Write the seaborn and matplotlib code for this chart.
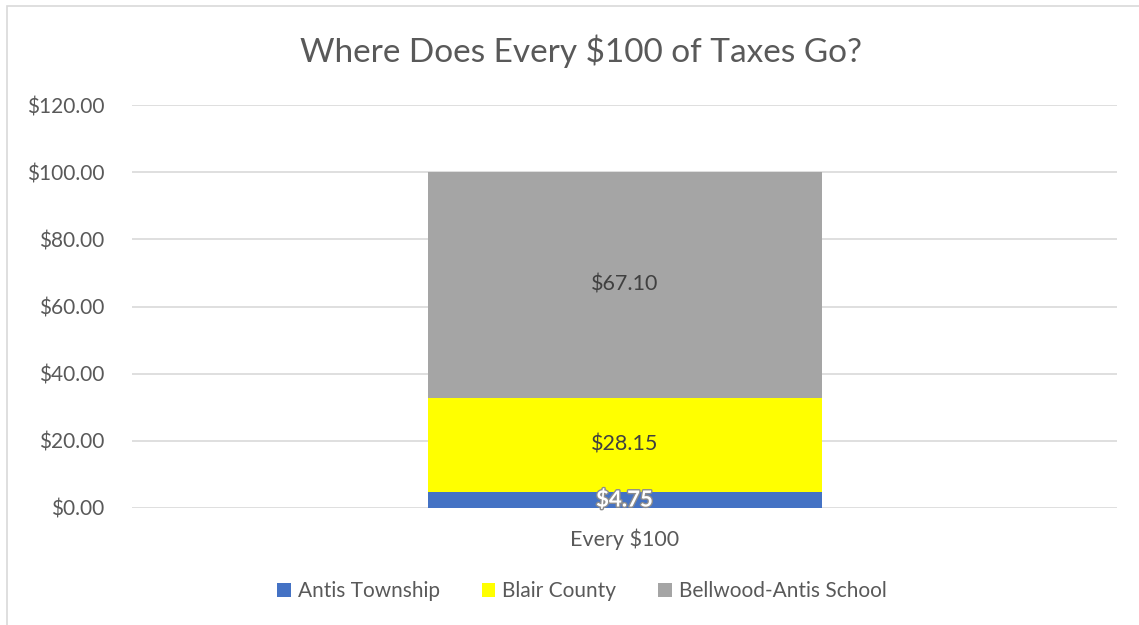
import matplotlib
matplotlib.use("Agg")
import matplotlib.pyplot as plt
import matplotlib.patheffects as pe
from matplotlib.patches import Rectangle
import seaborn as sns

# Data
categories = ["Every $100"]
series_names = ["Antis Township", "Blair County", "Bellwood-Antis School"]
series_values = [4.75, 28.15, 67.10]
series_colors = ["#4472C4", "#FFFF00", "#A5A5A5"]
y_ticks = [0, 20, 40, 60, 80, 100, 120]

sns.set_theme(style="white")
plt.rcParams["font.family"] = ["Lato", "DejaVu Sans"]
text_color = "#595959"

fig = plt.figure(figsize=(11.39, 6.25), dpi=100)
ax = fig.add_axes([132 / 1139, 117 / 625, 985 / 1139, 403 / 625])

bottom = 0.0
for name, val, col in zip(series_names, series_values, series_colors):
    sns.barplot(x=categories, y=[val], bottom=bottom, color=col, width=0.4,
                ax=ax, label=name, saturation=1, edgecolor="none", linewidth=0)
    bottom += val

# data labels
for cont, val in zip(ax.containers, series_values):
    if val < 10:
        ax.bar_label(cont, labels=[f"${val:.2f}"], label_type="center",
                     color="white", fontsize=16, fontweight="bold",
                     path_effects=[pe.withStroke(linewidth=2, foreground="#8c8c8c")])
    else:
        ax.bar_label(cont, labels=[f"${val:.2f}"], label_type="center",
                     color="#404040", fontsize=15.5)

ax.set_ylim(0, 120)
ax.set_xlim(-0.5, 0.5)
ax.set_yticks(y_ticks)
ax.set_yticklabels([f"${v:.2f}" for v in y_ticks], color=text_color, fontsize=15)
ax.tick_params(axis="y", length=0, pad=20)
ax.tick_params(axis="x", length=0, pad=15, labelsize=15.5, labelcolor=text_color)
ax.yaxis.grid(True, color="#D9D9D9", linewidth=1.2)
ax.set_axisbelow(True)
for s in ax.spines.values():
    s.set_visible(False)
ax.set_xlabel("")
ax.set_ylabel("")

fig.suptitle("Where Does Every $100 of Taxes Go?", x=0.51, y=0.945,
             fontsize=24, color=text_color)

leg = ax.legend(loc="center", bbox_to_anchor=(582 / 1139, 1 - 591 / 625),
                bbox_transform=fig.transFigure, ncol=3, frameon=False,
                handlelength=0.65, handleheight=0.65, handletextpad=0.35,
                columnspacing=2.0, fontsize=15)
for t in leg.get_texts():
    t.set_color(text_color)

# chart border
fig.patches.append(Rectangle((7 / 1139, -0.01), 1.1, 1 - 6 / 625 + 0.01,
                             transform=fig.transFigure, fill=False,
                             edgecolor="#D9D9D9", linewidth=1.2))

fig.savefig("out.png", dpi=100)
